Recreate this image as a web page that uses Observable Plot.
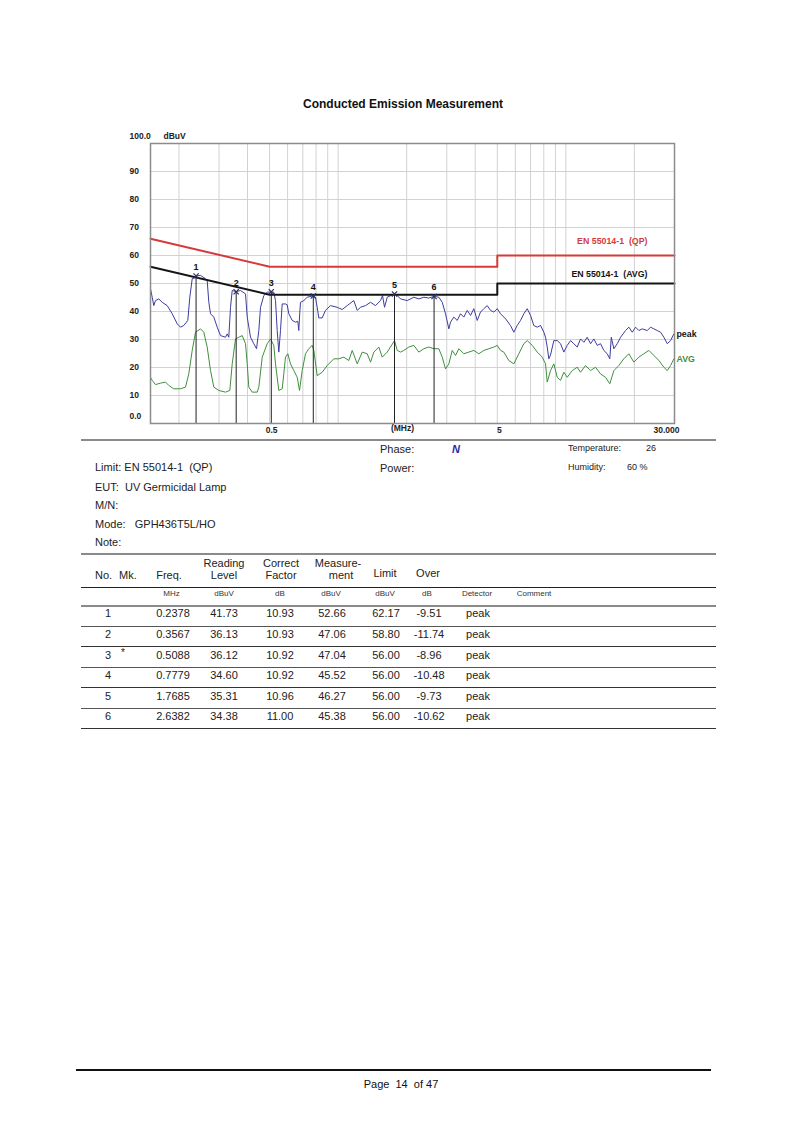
<!DOCTYPE html>
<html><head><meta charset="utf-8">
<script src="https://cdn.jsdelivr.net/npm/d3@7"></script>
<script src="https://cdn.jsdelivr.net/npm/@observablehq/plot@0.6"></script>
<style>
body{margin:0;background:#fff;font-family:"Liberation Sans",Arial,sans-serif;}
#page{position:relative;width:794px;height:1123px;overflow:hidden;background:#fff;}
#chart{position:absolute;left:0;top:0;}
.t{position:absolute;white-space:pre;line-height:1;}
.hl{position:absolute;height:0;}
</style></head><body><div id="page"><div id="chart"></div></div>
<script>
// ---------- data ----------
const peakFreq = [0.15,0.1526,0.1551,0.1578,0.1631,0.1688,0.1776,0.1868,0.1965,0.2032,0.2101,0.2187,0.2232,0.2287,0.2378,0.2487,0.2616,0.2661,0.2705,0.2752,0.2845,0.2945,0.3045,0.3202,0.3258,0.3311,0.3369,0.3427,0.3567,0.3727,0.3921,0.3989,0.4124,0.4264,0.4382,0.4485,0.4563,0.4718,0.4883,0.5088,0.5218,0.5309,0.5401,0.5489,0.5584,0.5681,0.5874,0.5976,0.6073,0.6286,0.6499,0.6652,0.6720,0.6788,0.6836,0.7068,0.7316,0.7779,0.7955,0.8093,0.8225,0.8513,0.8801,0.9258,0.9907,1.042,1.096,1.172,1.213,1.254,1.319,1.388,1.459,1.535,1.567,1.599,1.643,1.7685,1.818,1.879,2.011,2.150,2.262,2.379,2.495,2.6382,2.768,2.865,2.962,3.063,3.116,3.222,3.334,3.447,3.564,3.689,3.814,3.944,4.082,4.220,4.363,4.516,4.669,4.828,4.997,5.166,5.434,5.715,5.909,6.116,6.324,6.539,6.767,6.997,7.234,7.488,7.742,8.004,8.143,8.284,8.420,8.566,8.856,9.166,9.477,9.799,10.14,10.49,10.84,11.22,11.60,12.00,12.41,12.84,13.27,13.74,14.20,14.68,15.20,15.60,15.83,16.25,16.82,17.39,18.29,18.91,19.57,20.24,20.92,21.65,22.78,23.55,24.35,25.20,26.06,26.94,27.88,28.83,29.81,30];
const peakLevel = [48.1,45.1,42.1,43.9,44.5,43.3,42.1,39.2,35.6,34.4,35.0,36.8,45.1,51.7,52.7,52.9,51.7,51.0,43.3,39.2,38.0,34.4,31.4,30.8,32.0,30.8,41.5,47.5,47.1,47.5,46.3,38.0,30.8,28.5,26.7,33.2,41.5,45.7,46.9,47.0,46.9,43.9,33.2,25.5,33.2,42.7,42.7,42.4,39.2,36.8,36.2,36.5,33.2,39.8,43.3,43.9,45.1,45.6,45.1,41.5,37.7,37.7,40.4,42.1,41.5,40.7,42.1,43.9,40.4,41.5,42.1,43.3,42.1,43.9,45.7,41.5,45.1,46.3,45.7,44.5,43.9,45.1,44.5,45.1,44.8,45.4,45.1,43.3,39.2,33.8,36.2,38.0,36.8,39.2,38.0,40.4,38.6,41.0,36.8,39.8,41.0,42.1,40.4,39.8,41.0,39.2,37.4,35.0,32.6,35.0,36.8,39.2,41.0,38.6,35.0,34.4,35.0,32.6,30.8,27.3,23.1,24.5,29.6,29.6,28.5,25.5,27.9,29.6,28.5,27.3,30.2,29.0,30.8,28.5,30.2,27.9,28.5,26.1,24.9,23.1,30.8,26.7,28.5,30.8,33.2,34.4,32.6,34.4,33.2,33.8,33.2,34.4,33.8,33.2,32.6,30.8,28.5,29.6,32.0,32.0];

const avgFreq = [0.15,0.1526,0.1578,0.1659,0.1745,0.1805,0.1898,0.2032,0.2137,0.2210,0.2287,0.2364,0.2487,0.2572,0.2661,0.2752,0.2845,0.2993,0.3202,0.3345,0.3427,0.3543,0.3664,0.3792,0.3921,0.3989,0.4053,0.4195,0.4413,0.4485,0.4642,0.4883,0.5048,0.5218,0.5309,0.5489,0.5681,0.5774,0.5874,0.6012,0.6179,0.6388,0.6612,0.6767,0.6955,0.7191,0.7435,0.7695,0.7820,0.8093,0.8513,0.8954,0.9574,1.007,1.059,1.114,1.153,1.213,1.276,1.342,1.388,1.435,1.509,1.562,1.643,1.7685,1.818,1.879,1.943,2.044,2.150,2.262,2.379,2.500,2.638,2.768,2.865,2.962,3.063,3.170,3.278,3.389,3.564,3.749,3.944,4.148,4.363,4.590,4.828,4.997,5.166,5.341,5.618,5.909,6.216,6.539,6.767,7.118,7.488,7.876,8.143,8.284,8.566,8.856,9.166,9.477,9.799,10.14,10.67,11.22,11.60,12.20,12.84,13.50,14.20,14.94,15.60,16.25,17.09,17.97,18.91,19.89,20.92,22.01,23.15,24.35,25.61,26.94,27.88,28.83,29.81,30];
const avgLevel = [16.5,15.4,13.9,14.4,14.8,13.6,12.4,12.4,13.0,17.8,26.1,32.6,33.8,32.6,27.3,18.9,13.0,11.8,11.2,11.8,21.3,30.2,30.8,31.4,28.5,21.3,13.0,11.2,11.2,13.0,23.7,28.5,30.2,27.9,21.3,11.8,12.4,17.8,23.7,24.9,21.3,18.9,16.5,11.8,18.9,24.9,26.7,27.9,26.1,17.1,18.3,20.7,23.1,23.1,23.7,22.5,26.1,21.3,25.5,24.9,21.9,25.5,27.3,23.7,25.5,29.6,26.1,25.5,26.1,27.3,27.9,25.5,26.7,27.3,26.7,26.7,23.7,19.5,21.3,26.1,24.3,26.7,24.9,25.5,26.1,24.9,26.1,26.7,27.3,27.9,26.1,25.5,22.5,21.3,24.9,28.5,29.6,27.9,25.5,23.7,21.3,14.8,18.9,21.3,16.5,15.4,18.3,16.5,18.9,20.1,18.3,20.7,18.9,20.1,17.7,16.5,14.2,18.9,20.7,23.1,24.9,21.9,23.7,24.9,26.1,24.3,22.5,20.1,18.9,20.7,23.1,23.1];

const limitFreq = [0.15,0.5,5,5,30];
const qpLimit   = [66,56,56,60,60];
const avgLimit  = [56,46,46,50,50];

const yTicks = [0,10,20,30,40,50,60,70,80,90,100];
const xGrid = [0.2,0.3,0.4,0.5,0.6,0.7,0.8,0.9,1,2,3,4,5,6,7,8,9,10,20];
const xTickFreq = [0.5,5];
const xTickLabel = ["0.5","5"];

const mkNo      = ["1","2","3","4","5","6"];
const mkFlag    = ["","","*","","",""];
const mkFreq    = [0.2378,0.3567,0.5088,0.7779,1.7685,2.6382];
const mkReading = ["41.73","36.13","36.12","34.60","35.31","34.38"];
const mkCorrect = ["10.93","10.93","10.92","10.92","10.96","11.00"];
const mkMeas    = [52.66,47.06,47.04,45.52,46.27,45.38];
const mkLimit   = ["62.17","58.80","56.00","56.00","56.00","56.00"];
const mkOver    = ["-9.51","-11.74","-8.96","-10.48","-9.73","-10.62"];
const mkDet     = ["peak","peak","peak","peak","peak","peak"];

// ---------- tables for Plot ----------
const peak = peakFreq.map((f,i)=>({f, v:peakLevel[i]}));
const avg = avgFreq.map((f,i)=>({f, v:avgLevel[i]}));
const qp = limitFreq.map((f,i)=>({f, v:qpLimit[i]}));
const av = limitFreq.map((f,i)=>({f, v:avgLimit[i]}));
const marks = mkNo.map((n,i)=>({n, f:mkFreq[i], v:mkMeas[i]}));
const yMid = yTicks.filter(d=>d>0 && d<100);
const yEnd = yTicks.filter(d=>d===0 || d===100);
const xt = xTickFreq.map((f,i)=>({f, s:xTickLabel[i]}));

const FONT = "Liberation Sans, Arial, sans-serif";
const chart = Plot.plot({
  width: 794, height: 445,
  marginLeft: 150, marginRight: 120, marginTop: 143, marginBottom: 22,
  x: {type: "log", domain: [0.15, 30], axis: null},
  y: {domain: [0, 100], axis: null},
  style: {fontFamily: FONT, background: "transparent", overflow: "visible"},
  marks: [
    Plot.ruleX(xGrid, {stroke: "#d2d2d2", strokeWidth: 1}),
    Plot.ruleY(yMid, {stroke: "#d2d2d2", strokeWidth: 1}),
    Plot.line(avg, {x: "f", y: "v", stroke: "#3f8f3f", strokeWidth: 1}),
    Plot.line(peak, {x: "f", y: "v", stroke: "#3c3ca0", strokeWidth: 1}),
    Plot.line(qp, {x: "f", y: "v", stroke: "#d63a3a", strokeWidth: 2}),
    Plot.line(av, {x: "f", y: "v", stroke: "#151515", strokeWidth: 2}),
    Plot.ruleX(marks, {x: "f", y1: 0, y2: "v", stroke: "#222", strokeWidth: 1}),
    Plot.dot(marks, {x: "f", y: "v", symbol: "times", r: 2.5, stroke: "#303060", strokeWidth: 1.2}),
    Plot.text(marks, {x: "f", y: "v", text: "n", dy: -9, fontSize: 9, fontWeight: "bold", fill: "#111"}),
    Plot.frame({stroke: "#8c8c8c", strokeWidth: 1.5}),
    Plot.text(yMid, {x: () => 0.15, y: d => d, text: d => String(d), dx: -21, textAnchor: "start", fontSize: 8.5, fontWeight: "bold", fill: "#222"}),
    Plot.text(yEnd, {x: () => 0.15, y: d => d, text: d => d.toFixed(1), dx: -21, dy: -7, textAnchor: "start", fontSize: 8.5, fontWeight: "bold", fill: "#222"}),
    Plot.text(["dBuV"], {x: () => 0.15, y: () => 100, dx: 13, dy: -7, textAnchor: "start", fontSize: 8.5, fontWeight: "bold", fill: "#222"}),
    Plot.text(xt, {x: "f", y: () => 0, text: "s", dy: 7, dx: 2, fontSize: 8.5, fontWeight: "bold", fill: "#222"}),
    Plot.text(["30.000"], {x: () => 30, y: () => 0, dy: 7, dx: 5, textAnchor: "end", fontSize: 8.5, fontWeight: "bold", fill: "#222"}),
    Plot.text(["(MHz)"], {frameAnchor: "bottom", dy: 7, dx: -10, fontSize: 8.5, fontWeight: "bold", fill: "#222"}),
    Plot.text(["EN 55014-1  (QP)"], {x: () => 30, y: () => qpLimit[qpLimit.length-1], dx: -27, dy: -14, textAnchor: "end", fontSize: 8.8, fontWeight: "bold", fill: "#d63a3a"}),
    Plot.text(["EN 55014-1  (AVG)"], {x: () => 30, y: () => avgLimit[avgLimit.length-1], dx: -27, dy: -9, textAnchor: "end", fontSize: 8.8, fontWeight: "bold", fill: "#151515"}),
    Plot.text(["peak"], {x: () => 30, y: () => peakLevel[peakLevel.length-1], dx: 2, textAnchor: "start", fontSize: 8.8, fontWeight: "bold", fill: "#151515"}),
    Plot.text(["AVG"], {x: () => 30, y: () => avgLevel[avgLevel.length-1], dx: 2, textAnchor: "start", fontSize: 8.8, fontWeight: "bold", fill: "#3f8f3f"})
  ]
});
document.getElementById("chart").appendChild(chart);

// ---------- page text ----------
const page = document.getElementById("page");
function T(s, x, y, o = {}) {
  const d = document.createElement("div");
  d.className = "t";
  d.textContent = s;
  d.style.left = x + "px";
  d.style.top = y + "px";
  d.style.fontSize = (o.size || 11) + "px";
  d.style.fontWeight = o.weight || "normal";
  d.style.fontStyle = o.style || "normal";
  d.style.color = o.color || "#222";
  const tx = o.anchor === "middle" ? "-50%" : o.anchor === "end" ? "-100%" : "0";
  d.style.transform = `translate(${tx},-50%)`;
  page.appendChild(d);
}
function HL(x1, x2, y, w, c) {
  const d = document.createElement("div");
  d.className = "hl";
  d.style.left = x1 + "px";
  d.style.width = (x2 - x1) + "px";
  d.style.top = (y - w / 2) + "px";
  d.style.borderTop = `${w}px solid ${c}`;
  page.appendChild(d);
}

T("Conducted Emission Measurement", 403, 104, {size: 12, weight: "bold", anchor: "middle", color: "#111"});

HL(81, 716, 440, 2, "#8a8a8a");
T("Phase:", 380, 449, {size: 11});
T("N", 452, 449, {size: 11, weight: "bold", style: "italic", color: "#2a2aa0"});
T("Temperature:", 568, 448, {size: 9});
T("26", 646, 448, {size: 9});
T("Power:", 380, 468, {size: 11});
T("Humidity:", 568, 467, {size: 9});
T("60 %", 627, 467, {size: 9});

T("Limit: EN 55014-1  (QP)", 95, 467, {size: 11});
T("EUT:  UV Germicidal Lamp", 95, 486.5, {size: 11});
T("M/N:", 95, 505, {size: 11});
T("Mode:   GPH436T5L/HO", 95, 523.5, {size: 11});
T("Note:", 95, 542, {size: 11});

HL(81, 716, 554, 2, "#8a8a8a");
// table header
T("No.", 95, 575, {size: 11});
T("Mk.", 119, 575, {size: 11});
T("Freq.", 169, 575, {size: 11, anchor: "middle"});
T("Reading", 224, 562.7, {size: 11, anchor: "middle"});
T("Level", 224, 575, {size: 11, anchor: "middle"});
T("Correct", 281, 562.7, {size: 11, anchor: "middle"});
T("Factor", 281, 575, {size: 11, anchor: "middle"});
T("Measure-", 338, 562.7, {size: 11, anchor: "middle"});
T("ment", 341, 575, {size: 11, anchor: "middle"});
T("Limit", 385, 572.7, {size: 11, anchor: "middle"});
T("Over", 428, 572.7, {size: 11, anchor: "middle"});
HL(81, 716, 587.5, 1, "#222");
const units = [["MHz",171.5],["dBuV",224],["dB",280],["dBuV",331],["dBuV",385],["dB",427],["Detector",477],["Comment",534]];
units.forEach(([s,x]) => T(s, x, 594.3, {size: 8, anchor: "middle", color: "#333"}));
HL(81, 716, 606, 2, "#8a8a8a");
const rowY = [613.3, 634, 654.7, 675, 695.7, 715.7];
mkNo.forEach((n, i) => {
  const y = rowY[i];
  T(n, 108, y, {anchor: "middle"});
  if (mkFlag[i]) T(mkFlag[i], 123, y - 2, {anchor: "middle", size: 10});
  T(mkFreq[i].toFixed(4), 173, y, {anchor: "middle"});
  T(mkReading[i], 224, y, {anchor: "middle"});
  T(mkCorrect[i], 280, y, {anchor: "middle"});
  T(mkMeas[i].toFixed(2), 332, y, {anchor: "middle"});
  T(mkLimit[i], 386, y, {anchor: "middle"});
  T(mkOver[i], 429, y, {anchor: "middle"});
  T(mkDet[i], 478, y, {anchor: "middle"});
  HL(81, 716, y + 13, 1.6, i % 2 === 0 ? "#555" : "#333");
});

HL(76, 711, 1070, 2, "#111");
T("Page  14  of 47", 401, 1083.5, {size: 11, anchor: "middle", color: "#111"});
</script>
</body></html>
